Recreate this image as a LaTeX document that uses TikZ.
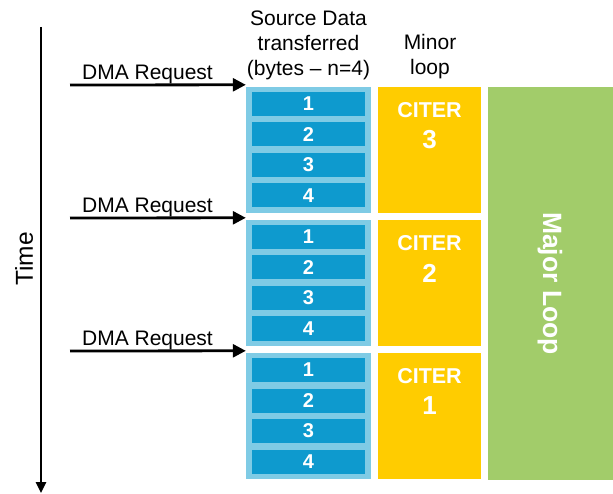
\documentclass[tikz,border=0pt]{standalone}
\usepackage{fontspec}
\setmainfont{Liberation Sans}
\usetikzlibrary{arrows.meta}
\definecolor{lblue}{HTML}{7FCBE5}
\definecolor{dblue}{HTML}{0E9ACE}
\definecolor{myyellow}{HTML}{FFCC00}
\definecolor{mygreen}{HTML}{A2CC6A}
\tikzset{
  grp/.style={fill=lblue, draw=none, minimum width=125pt, minimum height=126pt, inner sep=0pt},
  cell/.style={fill=dblue, draw=none, minimum width=113pt, minimum height=24pt, inner sep=0pt, text=white, font=\fontsize{20}{20}\selectfont\bfseries},
  ybox/.style={fill=myyellow, draw=none, minimum width=103pt, minimum height=126pt, inner sep=0pt},
  citer/.style={text=white, font=\fontsize{21.5}{21}\selectfont\bfseries, inner sep=0pt},
  citernum/.style={text=white, font=\fontsize{26}{26}\selectfont\bfseries, inner sep=0pt},
  lbl/.style={font=\fontsize{21}{25}\selectfont, inner sep=0pt, align=center},
  req/.style={line width=2.8pt, -{Triangle[length=13pt,width=13pt]}},
}
\begin{document}
\begin{tikzpicture}[x=1pt,y=-1pt]
\useasboundingbox (0,0) rectangle (613,494);
% time axis
\coordinate (t0) at (41,27);
\coordinate (t1) at (41,493);
\draw[line width=2.5pt, -{Triangle[length=11pt,width=10pt]}] (t0) -- (t1);
\node[lbl, rotate=90, font=\fontsize{24.5}{25}\selectfont] (time) at (24,259) {Time};
% headers
\node[lbl] (src) at (308.5,45) {Source Data\\transferred\\(bytes -- n=4)};
\node[lbl] (minor) at (430,57) {Minor\\loop};
% green major loop
\node[fill=mygreen, minimum width=125pt, minimum height=393pt, inner sep=0pt] (major) at (550.5,283.5) {};
\node[rotate=-90, text=white, font=\fontsize{26.5}{26}\selectfont\bfseries, inner sep=0pt] (majlbl) at (550,283.5) {Major Loop};
% groups
\foreach \i/\top/\n in {1/87/3, 2/220/2, 3/353/1} {
  \node[grp] (g\i) at (308.5,\top+63) {};
  \foreach \k/\off in {1/17, 2/47.5, 3/78, 4/108.5} {
    \node[cell] (c\i\k) at (308.5,\top+\off) {\k};
  }
  \node[ybox] (y\i) at (429.5,\top+63) {};
  \node[citer] (ct\i) at (429.5,\top+23) {CITER};
  \node[citernum] (cn\i) at (429.5,\top+53) {\n};
  \coordinate (s\i) at (70,\top-2);
  \draw[req] (s\i) -- ([yshift=2pt]g\i.north west);
  \node[lbl] (d\i) at (147.5,\top-13) {DMA Request};
}
\end{tikzpicture}
\end{document}
